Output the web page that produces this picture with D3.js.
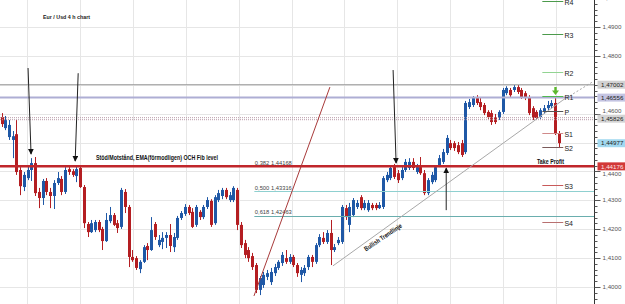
<!DOCTYPE html>
<html>
<head>
<meta charset="utf-8">
<script src="https://d3js.org/d3.v7.min.js"></script>
<style>
  body { margin: 0; background: #fff; }
  svg { display: block; font-family: "Liberation Sans", Arial, sans-serif; }
</style>
</head>
<body>
<script>
// eur/usd 4h candles, oldest first
var opens = [
  1.4588, 1.4550, 1.4519, 1.4509, 1.4529, 1.4405, 1.4346, 1.4377, 1.4405, 1.4429,
  1.4329, 1.4308, 1.4367, 1.4329, 1.4315, 1.4360, 1.4374, 1.4329, 1.4408, 1.4401,
  1.4384, 1.4412, 1.4346, 1.4218, 1.4190, 1.4197, 1.4225, 1.4201, 1.4159, 1.4228,
  1.4249, 1.4221, 1.4208, 1.4329, 1.4277, 1.4104, 1.4100, 1.4062, 1.4087, 1.4142,
  1.4128, 1.4218, 1.4145, 1.4156, 1.4170, 1.4180, 1.4138, 1.4170, 1.4239, 1.4253,
  1.4277, 1.4260, 1.4215, 1.4260, 1.4242, 1.4277, 1.4298, 1.4221, 1.4301, 1.4315,
  1.4336, 1.4301, 1.4301, 1.4336, 1.4215, 1.4152, 1.4128, 1.4107, 1.4076, 1.3990,
  1.4007, 1.4035, 1.4017, 1.4048, 1.4066, 1.4083, 1.4100, 1.4087, 1.4104, 1.4076,
  1.4042, 1.4048, 1.4069, 1.4104, 1.4087, 1.4145, 1.4170, 1.4156, 1.4187, 1.4128,
  1.4152, 1.4156, 1.4273, 1.4215, 1.4249, 1.4277, 1.4311, 1.4273, 1.4266, 1.4284,
  1.4284, 1.4273, 1.4277, 1.4370, 1.4377, 1.4415, 1.4394, 1.4377, 1.4405, 1.4412,
  1.4433, 1.4398, 1.4415, 1.4394, 1.4325, 1.4363, 1.4370, 1.4422, 1.4433, 1.4464,
  1.4498, 1.4498, 1.4491, 1.4498, 1.4467, 1.4623, 1.4630, 1.4654, 1.4640, 1.4630,
  1.4606, 1.4602, 1.4588, 1.4585, 1.4606, 1.4671, 1.4682, 1.4682, 1.4692, 1.4682,
  1.4671, 1.4657, 1.4619, 1.4606, 1.4588, 1.4606, 1.4619, 1.4626, 1.4637, 1.4533
];
var highs = [
  1.4602, 1.4592, 1.4578, 1.4540, 1.4578, 1.4415, 1.4398, 1.4419, 1.4446, 1.4450,
  1.4343, 1.4374, 1.4377, 1.4343, 1.4370, 1.4398, 1.4384, 1.4415, 1.4415, 1.4408,
  1.4419, 1.4422, 1.4353, 1.4225, 1.4232, 1.4232, 1.4232, 1.4208, 1.4256, 1.4277,
  1.4256, 1.4232, 1.4343, 1.4339, 1.4284, 1.4128, 1.4107, 1.4093, 1.4145, 1.4152,
  1.4242, 1.4225, 1.4180, 1.4190, 1.4190, 1.4218, 1.4187, 1.4246, 1.4263, 1.4287,
  1.4284, 1.4273, 1.4284, 1.4266, 1.4284, 1.4311, 1.4304, 1.4318, 1.4336, 1.4343,
  1.4343, 1.4329, 1.4349, 1.4343, 1.4225, 1.4163, 1.4138, 1.4118, 1.4083, 1.4038,
  1.4052, 1.4059, 1.4066, 1.4080, 1.4093, 1.4121, 1.4128, 1.4114, 1.4111, 1.4083,
  1.4069, 1.4076, 1.4111, 1.4111, 1.4152, 1.4183, 1.4190, 1.4197, 1.4232, 1.4149,
  1.4173, 1.4284, 1.4284, 1.4291, 1.4308, 1.4301, 1.4318, 1.4301, 1.4301, 1.4291,
  1.4291, 1.4294, 1.4384, 1.4398, 1.4422, 1.4426, 1.4405, 1.4415, 1.4443, 1.4446,
  1.4446, 1.4426, 1.4450, 1.4405, 1.4377, 1.4398, 1.4422, 1.4457, 1.4478, 1.4526,
  1.4509, 1.4505, 1.4502, 1.4509, 1.4644, 1.4651, 1.4661, 1.4664, 1.4657, 1.4637,
  1.4612, 1.4612, 1.4599, 1.4612, 1.4689, 1.4695, 1.4689, 1.4699, 1.4699, 1.4689,
  1.4678, 1.4664, 1.4626, 1.4612, 1.4619, 1.4630, 1.4644, 1.4647, 1.4657, 1.4540
];
var lows = [
  1.4554, 1.4543, 1.4509, 1.4446, 1.4388, 1.4318, 1.4332, 1.4370, 1.4367, 1.4315,
  1.4273, 1.4284, 1.4318, 1.4273, 1.4270, 1.4353, 1.4318, 1.4322, 1.4388, 1.4381,
  1.4363, 1.4343, 1.4204, 1.4173, 1.4187, 1.4190, 1.4190, 1.4128, 1.4156, 1.4221,
  1.4211, 1.4187, 1.4201, 1.4256, 1.4069, 1.4087, 1.4059, 1.4048, 1.4083, 1.4093,
  1.4125, 1.4163, 1.4138, 1.4131, 1.4135, 1.4121, 1.4121, 1.4163, 1.4232, 1.4246,
  1.4249, 1.4204, 1.4208, 1.4232, 1.4235, 1.4270, 1.4208, 1.4215, 1.4294, 1.4304,
  1.4304, 1.4294, 1.4294, 1.4197, 1.4135, 1.4100, 1.4087, 1.4059, 1.3979, 1.3972,
  1.3997, 1.4024, 1.4007, 1.4038, 1.4059, 1.4073, 1.4080, 1.4080, 1.4069, 1.4035,
  1.4017, 1.4038, 1.4059, 1.4069, 1.4080, 1.4138, 1.4149, 1.4149, 1.4076, 1.4121,
  1.4145, 1.4149, 1.4232, 1.4190, 1.4242, 1.4270, 1.4266, 1.4266, 1.4260, 1.4266,
  1.4266, 1.4270, 1.4270, 1.4363, 1.4370, 1.4374, 1.4360, 1.4370, 1.4398, 1.4405,
  1.4405, 1.4391, 1.4388, 1.4318, 1.4318, 1.4356, 1.4363, 1.4415, 1.4426, 1.4457,
  1.4474, 1.4471, 1.4460, 1.4450, 1.4460, 1.4616, 1.4623, 1.4630, 1.4612, 1.4595,
  1.4581, 1.4561, 1.4564, 1.4578, 1.4599, 1.4664, 1.4657, 1.4675, 1.4668, 1.4651,
  1.4647, 1.4595, 1.4578, 1.4578, 1.4581, 1.4599, 1.4612, 1.4619, 1.4526, 1.4481
];
var closes = [
  1.4564, 1.4578, 1.4561, 1.4522, 1.4398, 1.4349, 1.4388, 1.4405, 1.4429, 1.4325,
  1.4308, 1.4367, 1.4329, 1.4315, 1.4360, 1.4377, 1.4329, 1.4405, 1.4398, 1.4388,
  1.4408, 1.4346, 1.4221, 1.4190, 1.4221, 1.4225, 1.4197, 1.4159, 1.4232, 1.4249,
  1.4215, 1.4204, 1.4336, 1.4277, 1.4104, 1.4093, 1.4066, 1.4087, 1.4138, 1.4128,
  1.4197, 1.4173, 1.4163, 1.4170, 1.4180, 1.4142, 1.4173, 1.4239, 1.4256, 1.4277,
  1.4256, 1.4208, 1.4277, 1.4242, 1.4277, 1.4301, 1.4215, 1.4311, 1.4325, 1.4336,
  1.4311, 1.4318, 1.4343, 1.4215, 1.4145, 1.4111, 1.4100, 1.4069, 1.3990, 1.4031,
  1.4042, 1.4048, 1.4052, 1.4069, 1.4087, 1.4111, 1.4087, 1.4104, 1.4076, 1.4048,
  1.4059, 1.4066, 1.4104, 1.4087, 1.4145, 1.4173, 1.4156, 1.4187, 1.4128, 1.4138,
  1.4163, 1.4277, 1.4242, 1.4277, 1.4301, 1.4291, 1.4273, 1.4291, 1.4291, 1.4273,
  1.4273, 1.4284, 1.4377, 1.4388, 1.4412, 1.4381, 1.4370, 1.4405, 1.4433, 1.4433,
  1.4412, 1.4415, 1.4394, 1.4325, 1.4370, 1.4388, 1.4415, 1.4446, 1.4467, 1.4516,
  1.4481, 1.4481, 1.4467, 1.4457, 1.4637, 1.4640, 1.4654, 1.4637, 1.4623, 1.4602,
  1.4588, 1.4571, 1.4571, 1.4606, 1.4682, 1.4689, 1.4664, 1.4692, 1.4675, 1.4657,
  1.4654, 1.4602, 1.4585, 1.4585, 1.4612, 1.4619, 1.4630, 1.4637, 1.4533, 1.4498
];

// price boxes on the right axis
var boxValues = [1.47002, 1.46556, 1.45826, 1.44977, 1.44176];
var boxLabels = ["1,47002", "1,46556", "1,45826", "1,44977", "1,44176"];

// fibonacci retracement
var fibRatios = ["0,382", "0,500", "0,618"];
var fibPrices = [1.44168, 1.43316, 1.42463];

// daily pivots
var pivotNames = ["R4", "R3", "R2", "R1", "P", "S1", "S2", "S3", "S4"];
var pivotValues = [1.4990, 1.4875, 1.4744, 1.4661, 1.4609, 1.4533, 1.4484, 1.4353, 1.4225];

// axis labels 1,4000 .. 1,5000
var tickValues = d3.range(140, 151).map(function(d) { return d / 100; });

window.onload = function() {

  var w = 625;
  var h = 304;
  var axisX = 594.5;

  var svg = d3.select("body")
              .append("svg")
              .attr("width", w)
              .attr("height", h);

  var x = d3.scaleLinear().domain([0, 149]).range([1.5, 558.8]);
  var y = d3.scaleLinear().domain([1.40, 1.49]).range([287, 27]);

  function fmt(v) { return v.toFixed(4).replace(".", ","); }

  var defs = svg.append("defs");
  defs.append("marker")
      .attr("id", "head")
      .attr("viewBox", "0 0 10 10")
      .attr("refX", 9).attr("refY", 5)
      .attr("markerWidth", 6).attr("markerHeight", 6)
      .attr("markerUnits", "userSpaceOnUse")
      .attr("orient", "auto")
    .append("path")
      .attr("d", "M0,0 L10,5 L0,10 z")
      .attr("fill", "#111");

  // grid
  var grid = svg.append("g");
  grid.selectAll("line.h")
      .data(d3.range(139, 151).map(function(d) { return d / 100; }))
      .enter().append("line")
      .attr("x1", 0).attr("x2", axisX)
      .attr("y1", function(d) { return Math.round(y(d)) + 0.5; })
      .attr("y2", function(d) { return Math.round(y(d)) + 0.5; })
      .attr("stroke", "#e6e6e6");
  grid.selectAll("line.v")
      .data(d3.range(6.8, 150, 14.15))
      .enter().append("line")
      .attr("x1", function(d) { return Math.round(x(d)) + 0.5; })
      .attr("x2", function(d) { return Math.round(x(d)) + 0.5; })
      .attr("y1", 0).attr("y2", h)
      .attr("stroke", "#e6e6e6");

  // candles
  var idx = d3.range(opens.length);
  var candles = svg.append("g").selectAll("g")
      .data(idx)
      .enter().append("g")
      .attr("fill", function(i) { return closes[i] >= opens[i] ? "#1f58a6" : "#b41e22"; })
      .attr("stroke", function(i) { return closes[i] >= opens[i] ? "#1f58a6" : "#b41e22"; });

  candles.append("line")
      .attr("x1", function(i) { return Math.round(x(i)) + 0.5; })
      .attr("x2", function(i) { return Math.round(x(i)) + 0.5; })
      .attr("y1", function(i) { return y(highs[i]); })
      .attr("y2", function(i) { return y(lows[i]); });

  candles.append("rect")
      .attr("stroke", "none")
      .attr("x", function(i) { return Math.round(x(i)) - 1; })
      .attr("width", 3)
      .attr("y", function(i) { return y(Math.max(opens[i], closes[i])); })
      .attr("height", function(i) { return Math.max(1, Math.abs(y(opens[i]) - y(closes[i]))); });

  // horizontal support / resistance lines
  var lines = svg.append("g");
  lines.append("line")
      .attr("x1", 0).attr("x2", axisX)
      .attr("y1", y(boxValues[0])).attr("y2", y(boxValues[0]))
      .attr("stroke", "#9a9a9a");
  lines.append("line")
      .attr("x1", 0).attr("x2", axisX)
      .attr("y1", y(boxValues[1])).attr("y2", y(boxValues[1]))
      .attr("stroke", "#aeaed4").attr("stroke-width", 2);
  [-1, 1].forEach(function(off) {
    lines.append("line")
        .attr("x1", 0).attr("x2", axisX)
        .attr("y1", y(boxValues[2]) + off).attr("y2", y(boxValues[2]) + off)
        .attr("stroke", "#b89aa8").attr("stroke-dasharray", "1,1");
  });
  lines.append("line")
      .attr("x1", 0).attr("x2", axisX)
      .attr("y1", y(boxValues[4])).attr("y2", y(boxValues[4]))
      .attr("stroke", "#c0262b").attr("stroke-width", 2.5);

  // fib levels (0.382 sits under the red line)
  var fibStart = 67.6;
  lines.selectAll("line.fib")
      .data([1, 2])
      .enter().append("line")
      .attr("x1", x(fibStart)).attr("x2", axisX)
      .attr("y1", function(k) { return Math.round(y(fibPrices[k])) + 0.5; })
      .attr("y2", function(k) { return Math.round(y(fibPrices[k])) + 0.5; })
      .attr("stroke", function(k) { return k === 1 ? "#8fd0d0" : "#6aaeae"; });
  svg.append("g").selectAll("text")
      .data([0, 1, 2])
      .enter().append("text")
      .attr("x", x(fibStart) + 0.5)
      .attr("y", function(k) { return y(fibPrices[k]) - 1.5; })
      .attr("font-size", 6)
      .attr("fill", "#444")
      .attr("textLength", 37)
      .attr("lengthAdjust", "spacingAndGlyphs")
      .text(function(k) { return fibRatios[k] + " " + fibPrices[k].toFixed(5).replace(".", ","); });

  // trend lines
  svg.append("line")
      .attr("x1", x(67.5)).attr("y1", y(1.3969))
      .attr("x2", x(87.8)).attr("y2", y(1.4692))
      .attr("stroke", "#a83a3a");
  svg.append("line")
      .attr("x1", x(88.6)).attr("y1", y(1.4073))
      .attr("x2", x(150.1)).attr("y2", y(1.4647))
      .attr("stroke", "#a8a8a8");
  svg.append("line")
      .attr("x1", x(150.1)).attr("y1", y(1.4647))
      .attr("x2", x(157.9)).attr("y2", y(1.4709))
      .attr("stroke", "#a8a8a8").attr("stroke-dasharray", "2,2");

  // pivots
  var pivotColors = ["#4c9a4c", "#4c9a4c", "#92d492", "#52b852", "#555", "#d08a8a", "#7a5a5a", "#c85a5a", "#b87070"];
  var piv = svg.append("g");
  piv.selectAll("line")
      .data(pivotValues)
      .enter().append("line")
      .attr("x1", x(144.6)).attr("x2", x(150.2))
      .attr("y1", function(d) { return Math.round(y(d)) + 0.5; })
      .attr("y2", function(d) { return Math.round(y(d)) + 0.5; })
      .attr("stroke", function(d, i) { return pivotColors[i]; });
  piv.selectAll("text")
      .data(pivotValues)
      .enter().append("text")
      .attr("x", x(150.5))
      .attr("y", function(d) { return y(d) + 3.5; })
      .attr("font-size", 7)
      .attr("fill", "#222")
      .text(function(d, i) { return pivotNames[i]; });

  // green marker above the last candles
  var gx = Math.round(x(148)) + 0.5, gy = y(1.4661) - 1;
  svg.append("path")
      .attr("d", "M" + (gx - 1.2) + "," + (gy - 8) + " h2.4 v3.5 h2.3 l-3.5,4.5 l-3.5,-4.5 h2.3 z")
      .attr("fill", "#5cb82c");

  // arrows
  var arrows = [
    [[7.1, 1.4758], [7.9, 1.4460]],
    [[20.5, 1.4740], [19.7, 1.4436]],
    [[104.7, 1.4751], [105.5, 1.4429]],
    [[118.9, 1.4266], [118.9, 1.4412]]
  ];
  svg.append("g").selectAll("line")
      .data(arrows)
      .enter().append("line")
      .attr("x1", function(d) { return x(d[0][0]); })
      .attr("y1", function(d) { return y(d[0][1]); })
      .attr("x2", function(d) { return x(d[1][0]); })
      .attr("y2", function(d) { return y(d[1][1]); })
      .attr("stroke", "#222")
      .attr("marker-end", "url(#head)");

  // texts
  svg.append("text")
      .attr("x", 43).attr("y", 18.5)
      .attr("font-size", 6.2).attr("font-weight", "bold").attr("fill", "#222")
      .attr("textLength", 47).attr("lengthAdjust", "spacingAndGlyphs")
      .text("Eur / Usd 4 h chart");
  svg.append("text")
      .attr("x", 96).attr("y", 159.5)
      .attr("font-size", 6.6).attr("font-weight", "bold").attr("fill", "#111")
      .attr("textLength", 122).attr("lengthAdjust", "spacingAndGlyphs")
      .text("Stöd/Motstånd, EMA(förmodligen) OCH Fib level");
  svg.append("text")
      .attr("x", 537).attr("y", 163.5)
      .attr("font-size", 7).attr("font-weight", "bold").attr("fill", "#111")
      .attr("textLength", 27).attr("lengthAdjust", "spacingAndGlyphs")
      .text("Take Profit");
  svg.append("text")
      .attr("transform", "translate(366,251.5) rotate(-34)")
      .attr("font-size", 6.6).attr("font-weight", "bold").attr("fill", "#111")
      .attr("textLength", 44).attr("lengthAdjust", "spacingAndGlyphs")
      .text("Bullish Trendlinje");

  // right axis
  var ax = svg.append("g");
  ax.append("rect").attr("x", axisX + 0.5).attr("y", 0).attr("width", w - axisX).attr("height", h).attr("fill", "#fff");
  ax.append("line")
      .attr("x1", axisX).attr("x2", axisX).attr("y1", 0).attr("y2", h)
      .attr("stroke", "#333");
  ax.selectAll("line.minor")
      .data(d3.range(695, 751).map(function(d) { return d / 500; }))
      .enter().append("line")
      .attr("x1", axisX).attr("x2", function(d, i) { return i % 5 === 0 ? axisX + 6 : axisX + 3; })
      .attr("y1", function(d) { return Math.round(y(d)) + 0.5; })
      .attr("y2", function(d) { return Math.round(y(d)) + 0.5; })
      .attr("stroke", "#555");

  // push a tick label clear of a price box that sits close to it
  function labelY(t) {
    var yy = y(t);
    boxValues.forEach(function(b) {
      var dy = yy - y(b);
      if (Math.abs(dy) < 8) yy = y(b) + (dy < 0 ? -8 : 8);
    });
    return yy;
  }
  ax.selectAll("text.tick")
      .data(tickValues.filter(function(t) {
        return !boxValues.some(function(b) { return Math.abs(y(b) - y(t)) < 4; });
      }))
      .enter().append("text")
      .attr("x", axisX + 8)
      .attr("y", function(d) { return labelY(d) + 2.1; })
      .attr("font-size", 6.2)
      .attr("fill", "#555")
      .text(fmt);

  var boxFill = ["#d2d2d2", "#c4c4e2", "#d4d4d4", "#a2d9f0", "#d23838"];
  var boxText = ["#222", "#222", "#222", "#222", "#fde6e6"];
  var boxes = ax.selectAll("g.box")
      .data(boxValues)
      .enter().append("g");
  boxes.append("rect")
      .attr("x", axisX + 3)
      .attr("y", function(d) { return y(d) - 4; })
      .attr("width", w - axisX - 3)
      .attr("height", 8)
      .attr("fill", function(d, i) { return boxFill[i]; });
  boxes.append("text")
      .attr("x", axisX + 6.5)
      .attr("y", function(d) { return y(d) + 2.2; })
      .attr("font-size", 6.2)
      .attr("fill", function(d, i) { return boxText[i]; })
      .text(function(d, i) { return boxLabels[i]; });
};
</script>
</body>
</html>
